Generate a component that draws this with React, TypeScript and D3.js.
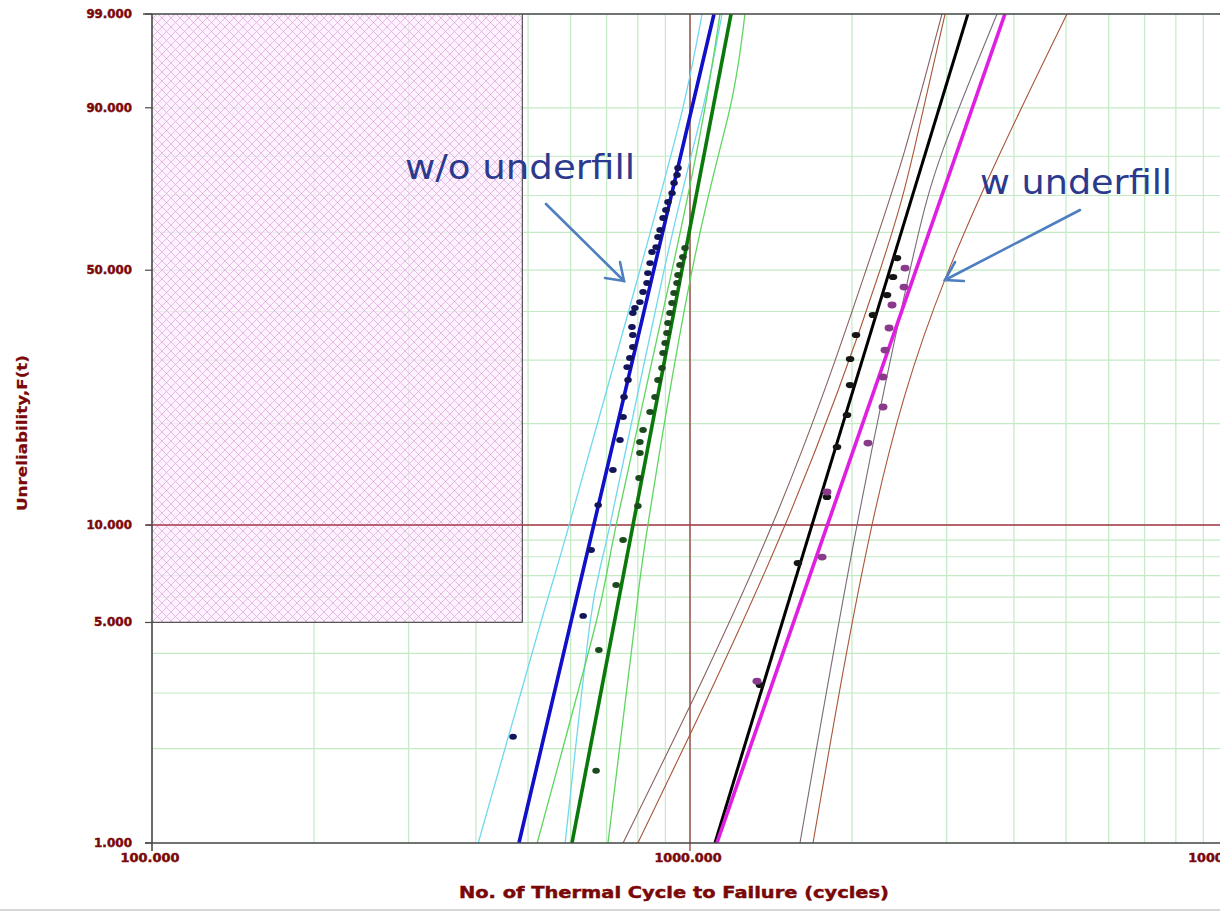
import React from "react";
import * as d3 from "d3";

// ---------- data ----------
const X_TICKS = [100, 1000, 10000];
const X_TICK_LABELS = ["100.000", "1000.000", "10000.000"];
const Y_TICKS = [1, 5, 10, 50, 90, 99];
const Y_TICK_LABELS = ["1.000", "5.000", "10.000", "50.000", "90.000", "99.000"];
const Y_GRID = [1, 2, 3, 4, 5, 6, 7, 8, 9, 10, 20, 30, 40, 50, 60, 70, 80, 90, 99];
const X_GRID = [100, 200, 300, 400, 500, 600, 700, 800, 900, 1000, 2000, 3000, 4000, 5000, 6000, 7000, 8000, 9000, 10000];

// failure data (cycles, unreliability %)
const blueCycles = [469, 633, 655, 675, 719, 741, 751, 754, 767, 764, 773, 783, 783, 780, 783, 790, 807, 818, 832, 835, 843, 850, 865, 872, 880, 891, 902, 910, 926, 934, 946, 950];
const blueF = [2.18, 5.24, 8.39, 11.5, 14.64, 17.93, 20.88, 23.78, 26.5, 28.74, 30.39, 32.49, 34.91, 36.59, 39.66, 40.8, 42.18, 44.57, 46.77, 49.28, 51.85, 54.75, 56.07, 58.77, 60.66, 63.92, 66.1, 68.26, 70.66, 73.3, 75.36, 77.13];
const greenCycles = [669, 677, 729, 751, 800, 804, 807, 807, 818, 843, 861, 872, 887, 891, 899, 906, 910, 918, 926, 934, 946, 950, 958, 970, 979];
const greenF = [1.7, 4.1, 6.54, 9.0, 11.43, 13.86, 16.43, 17.69, 19.17, 21.57, 23.78, 26.5, 28.57, 31.33, 33.28, 35.32, 37.45, 39.66, 41.95, 44.32, 46.77, 48.78, 51.34, 53.43, 55.81];
const blackCycles = [1349, 1587, 1797, 1876, 1958, 1984, 1984, 2035, 2188, 2324, 2384, 2425];
const blackF = [3.18, 7.65, 12.16, 17.11, 21.16, 25.67, 30.2, 34.91, 39.21, 43.84, 48.27, 53.16];
const purpleCycles = [1332, 1760, 1797, 2142, 2284, 2284, 2304, 2344, 2374, 2499, 2510];
const purpleF = [3.27, 7.98, 12.59, 17.57, 22.29, 27.01, 31.89, 36.38, 41.49, 45.78, 50.56];

// Weibull fits: [beta, eta]
const blueFit = [7.34, 900];
const greenFit = [9.0, 1006];
const blackFit = [5.66, 2508];
const magentaFit = [4.97, 2831];

// confidence bounds (unreliability %, cycles)
const cyanLowerF = [1, 5, 10, 50, 90, 99];
const cyanLowerC = [404, 528, 596, 807, 970, 1053];
const cyanUpperF = [1, 5, 10, 50, 90, 99];
const cyanUpperC = [586, 652, 710, 895, 1057, 1147];
const greenLowerF = [1, 5, 10, 50, 90, 99];
const greenLowerC = [520, 669, 729, 926, 1066, 1137];
const greenUpperF = [1, 5, 10, 50, 90, 99];
const greenUpperC = [704, 790, 835, 1009, 1187, 1265];
const blackLowerF = [1, 10, 50, 81.5, 99];
const blackLowerC = [751, 1421, 2124, 2509, 2940];
const magLowerF = [1, 10, 50, 81.5, 99];
const magLowerC = [800, 1502, 2255, 2609, 2979];
const blackUpperF = [1, 10, 50, 81.5, 99];
const blackUpperC = [1601, 2044, 2564, 2953, 3721];
const magUpperF = [1, 10, 48.3, 99];
const magUpperC = [1693, 2179, 2991, 5020];

// shaded region limits
const regionCycles = 488;
const regionF = 5;

export default function App() {
  const L = 152, R = 1228, T = 14, B = 843;
  const x = d3.scaleLog().domain([100, 10000]).range([L, R]);
  const wb = (p: number) => Math.log(-Math.log(1 - p / 100));
  const yLin = d3.scaleLinear().domain([wb(1), wb(99)]).range([B, T]);
  const y = (p: number) => yLin(wb(p));

  const fitPath = (fit: number[]) => {
    const [beta, eta] = fit;
    const pts = [1, 99].map((p) => [x(eta * Math.pow(-Math.log(1 - p / 100), 1 / beta)), y(p)] as [number, number]);
    return d3.line()(pts) || "";
  };
  const boundPath = (F: number[], C: number[]) => {
    const pts = F.map((p, i) => [x(C[i]), y(p)] as [number, number]).sort((a, b) => a[1] - b[1]);
    return d3.line().curve(d3.curveNatural)(pts) || "";
  };

  const darkRed = "#7a0808";
  const gridColor = "#c4eac4";
  const font = "'DejaVu Sans', Verdana, sans-serif";

  const pts = (C: number[], F: number[], fill: string, rx: number, ry: number) =>
    C.map((c, i) => <ellipse key={i} cx={x(c)} cy={y(F[i])} rx={rx} ry={ry} fill={fill} />);

  return (
    <svg width={1220} height={912} style={{ position: "absolute", left: 0, top: 0, background: "#fff" }} xmlns="http://www.w3.org/2000/svg">
      <defs>
        <pattern id="hatch" width="9" height="9" patternUnits="userSpaceOnUse">
          <rect width="9" height="9" fill="rgba(252,236,252,0.7)" />
          <path d="M0,0 L9,9 M9,0 L0,9" stroke="rgba(218,160,218,0.75)" strokeWidth="0.9" />
        </pattern>
        <clipPath id="plot">
          <rect x={L} y={T} width={1220 - L} height={B - T} />
        </clipPath>
      </defs>

      {/* grid */}
      {X_GRID.map((v) => (
        <line key={"xg" + v} x1={x(v)} x2={x(v)} y1={T} y2={B} stroke={gridColor} strokeWidth={1.2} />
      ))}
      {Y_GRID.map((v) => (
        <line key={"yg" + v} x1={L} x2={1220} y1={y(v)} y2={y(v)} stroke={gridColor} strokeWidth={1.2} />
      ))}

      {/* hatched region */}
      <rect x={L} y={T} width={x(regionCycles) - L} height={y(regionF) - T} fill="url(#hatch)" />
      <line x1={x(regionCycles)} x2={x(regionCycles)} y1={T} y2={y(regionF)} stroke="#555" strokeWidth={1.2} />
      <line x1={L} x2={x(regionCycles)} y1={y(regionF)} y2={y(regionF)} stroke="#555" strokeWidth={1.2} />

      {/* reference cross lines */}
      <line x1={x(1000)} x2={x(1000)} y1={T} y2={B + 8} stroke="#8a2a2a" strokeWidth={1.2} />
      <line x1={L - 6} x2={1220} y1={y(10)} y2={y(10)} stroke="#a8364a" strokeWidth={1.5} />

      <g clipPath="url(#plot)">
        {/* bounds */}
        <path d={boundPath(cyanLowerF, cyanLowerC)} fill="none" stroke="#6fd8ee" strokeWidth={1.3} />
        <path d={boundPath(cyanUpperF, cyanUpperC)} fill="none" stroke="#6fd8ee" strokeWidth={1.3} />
        <path d={boundPath(greenLowerF, greenLowerC)} fill="none" stroke="#5ed65e" strokeWidth={1.3} />
        <path d={boundPath(greenUpperF, greenUpperC)} fill="none" stroke="#5ed65e" strokeWidth={1.3} />
        <path d={boundPath(blackLowerF, blackLowerC)} fill="none" stroke="#8a6060" strokeWidth={1.1} />
        <path d={boundPath(blackUpperF, blackUpperC)} fill="none" stroke="#7a6a7a" strokeWidth={1.1} />
        <path d={boundPath(magLowerF, magLowerC)} fill="none" stroke="#a9553a" strokeWidth={1.1} />
        <path d={boundPath(magUpperF, magUpperC)} fill="none" stroke="#a9553a" strokeWidth={1.1} />

        {/* fits */}
        <path d={fitPath(blueFit)} stroke="#1010c8" strokeWidth={3.6} fill="none" />
        <path d={fitPath(greenFit)} stroke="#0a780a" strokeWidth={3.6} fill="none" />
        <path d={fitPath(blackFit)} stroke="#000" strokeWidth={3} fill="none" />
        <path d={fitPath(magentaFit)} stroke="#e020e0" strokeWidth={3.6} fill="none" />

        {/* points */}
        {pts(blueCycles, blueF, "#14145a", 3.8, 2.9)}
        {pts(greenCycles, greenF, "#1c4a1c", 3.8, 3)}
        {pts(blackCycles, blackF, "#151515", 4.3, 3.1)}
        {pts(purpleCycles, purpleF, "#8a3a8a", 4.5, 3.4)}
      </g>

      {/* frame */}
      <line x1={L - 9} x2={1220} y1={T} y2={T} stroke="#4a4a4a" strokeWidth={1.6} />
      <line x1={L - 7} x2={1220} y1={B} y2={B} stroke="#4a4a4a" strokeWidth={1.6} />
      <line x1={L} x2={L} y1={T} y2={B + 8} stroke="#4a4a4a" strokeWidth={1.6} />
      {Y_TICKS.map((v) => (
        <line key={"yt" + v} x1={L - 7} x2={L} y1={y(v)} y2={y(v)} stroke="#4a4a4a" strokeWidth={1.2} />
      ))}

      {/* tick labels */}
      <g fontFamily={font} fontWeight="bold" fill={darkRed} stroke={darkRed} strokeWidth={0.45}>
        {Y_TICKS.map((v, i) => (
          <text key={"yl" + v} x={132} y={y(v) + 4} textAnchor="end" fontSize={11.5}
            textLength={Y_TICK_LABELS[i].length * 7.6} lengthAdjust="spacingAndGlyphs">
            {Y_TICK_LABELS[i]}
          </text>
        ))}
        {X_TICKS.map((v, i) => (
          <text key={"xl" + v} x={x(v) - 2} y={862} textAnchor="middle" fontSize={11.5}
            textLength={X_TICK_LABELS[i].length * 8.4} lengthAdjust="spacingAndGlyphs">
            {X_TICK_LABELS[i]}
          </text>
        ))}

        {/* axis titles */}
        <text x={674} y={898} textAnchor="middle" fontSize={15.5}
          textLength={430} lengthAdjust="spacingAndGlyphs">
          No. of Thermal Cycle to Failure (cycles)
        </text>
        <text transform="translate(27,433) rotate(-90)" textAnchor="middle" fontSize={14} strokeWidth={0.2}
          textLength={156} lengthAdjust="spacingAndGlyphs">
          Unreliability,F(t)
        </text>
      </g>

      {/* annotations */}
      <text x={405} y={179} fontFamily={font} fontSize={33} fill="#2c3a8e" textLength={230} lengthAdjust="spacingAndGlyphs">
        w/o underfill
      </text>
      <text x={980} y={194} fontFamily={font} fontSize={33} fill="#2c3a8e" textLength={192} lengthAdjust="spacingAndGlyphs">
        w underfill
      </text>
      <g stroke="#4f7fbf" strokeWidth={2.6} fill="none" strokeLinecap="round">
        <line x1={546} y1={204} x2={624} y2={281} />
        <polyline points="605,278 624,281 620,262" />
        <line x1={1080} y1={210} x2={945} y2={280} />
        <polyline points="955,262 945,280 964,281" />
      </g>

      <line x1={0} x2={1220} y1={910} y2={910} stroke="#c8c8c8" strokeWidth={1.5} />
    </svg>
  );
}
